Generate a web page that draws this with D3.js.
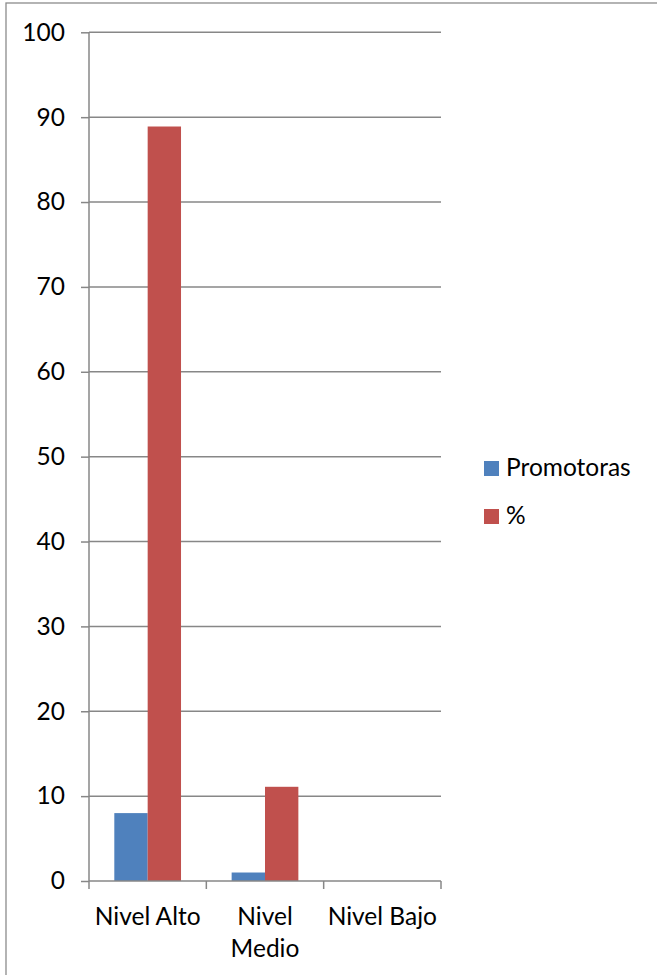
<!DOCTYPE html>
<html><head><meta charset="utf-8">
<script src="https://cdn.jsdelivr.net/npm/d3@7"></script>
<style>body{margin:0;background:#fff}svg{display:block}text{font-family:Lato,"Noto Sans",sans-serif;fill:#000}</style>
</head><body>
<svg id="c" width="657" height="975"></svg>
<script>
const categories = [["Nivel Alto"], ["Nivel", "Medio"], ["Nivel Bajo"]];
const categoryKeys = ["Nivel Alto", "Nivel Medio", "Nivel Bajo"];
const seriesNames = ["Promotoras", "%"];
const promotoras = [8, 1, 0];
const porcentaje = [88.9, 11.1, 0];
const yTicks = [0, 10, 20, 30, 40, 50, 60, 70, 80, 90, 100];
const colors = ["#4F81BD", "#C0504D"];

const svg = d3.select("#c");
const fs = 24.5;
// outer frame
svg.append("rect").attr("x", 6).attr("y", 3).attr("width", 700).attr("height", 1000)
  .attr("fill", "none").attr("stroke", "#8c8c8c").attr("stroke-width", 1.3);

const L = 89, R = 441, T = 32.3, B = 881;
const y = d3.scaleLinear().domain([0, 100]).range([B, T]);
const x0 = d3.scaleBand().domain(categoryKeys).range([L, R]).padding(0);
const bw = x0.bandwidth();
const x1 = d3.scaleBand().domain(seriesNames).range([bw * 0.2157, bw * 0.7843]).padding(0);

const grid = "#878787";
// gridlines
svg.append("g").selectAll("line").data(yTicks.filter(d => d > 0)).join("line")
  .attr("x1", L).attr("x2", R).attr("y1", d => y(d)).attr("y2", d => y(d))
  .attr("stroke", grid).attr("stroke-width", 1.5);

// bars
const data = categoryKeys.map((c, i) => ({c, vals: [promotoras[i], porcentaje[i]]}));
const g = svg.append("g").selectAll("g").data(data).join("g")
  .attr("transform", d => `translate(${x0(d.c)},0)`);
g.selectAll("rect").data(d => d.vals.map((v, j) => ({v, s: seriesNames[j], j}))).join("rect")
  .attr("x", d => x1(d.s)).attr("width", x1.bandwidth())
  .attr("y", d => y(d.v)).attr("height", d => B - y(d.v))
  .attr("fill", d => colors[d.j]);

// y axis
const ya = svg.append("g").attr("transform", `translate(${L},0)`)
  .call(d3.axisLeft(y).tickValues(yTicks).tickSize(8).tickPadding(16).tickFormat(d3.format("d")));
ya.select(".domain").attr("stroke", grid).attr("stroke-width", 1.5).attr("d", `M0,${B}V${T}`);
ya.selectAll(".tick line").attr("stroke", grid).attr("stroke-width", 1.5);
ya.selectAll(".tick text").attr("font-size", fs).attr("font-family", "Lato").attr("fill", "#000");

// x axis
svg.append("line").attr("x1", L).attr("x2", R).attr("y1", B).attr("y2", B)
  .attr("stroke", grid).attr("stroke-width", 1.5);
const bounds = categoryKeys.map(c => x0(c)).concat([R]);
svg.append("g").selectAll("line").data(bounds).join("line")
  .attr("x1", d => d).attr("x2", d => d).attr("y1", B).attr("y2", B + 8)
  .attr("stroke", grid).attr("stroke-width", 1.5);
svg.append("g").selectAll("text").data(categories).join("text")
  .attr("x", (d, i) => x0(categoryKeys[i]) + bw / 2).attr("y", 925)
  .attr("text-anchor", "middle").attr("font-size", fs)
  .each(function(d) {
    d3.select(this).selectAll("tspan").data(d).join("tspan")
      .attr("x", d3.select(this).attr("x")).attr("dy", (t, k) => k === 0 ? 0 : 31.5).text(t => t);
  });

// legend
const lg = svg.append("g").selectAll("g").data(seriesNames).join("g")
  .attr("transform", (d, i) => `translate(484,${461 + i * 48})`);
lg.append("rect").attr("width", 15).attr("height", 15).attr("fill", (d, i) => colors[i]);
lg.append("text").attr("x", 22).attr("y", 15).attr("font-size", fs).text(d => d);
</script>
</body></html>
